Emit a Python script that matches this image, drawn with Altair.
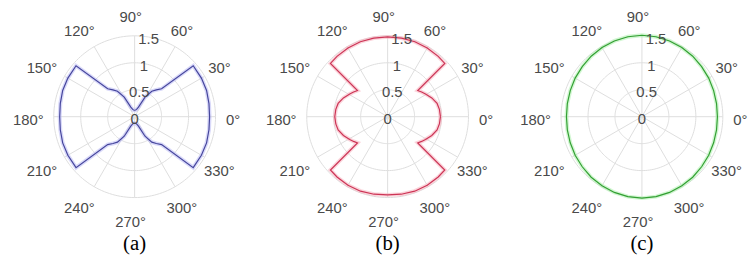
import altair as alt
import pandas as pd

# ---------------- data ----------------
angles_a = [0, 10, 20, 30, 41, 46, 51, 56, 62, 68, 75, 82, 90,
            98, 105, 112, 118, 124, 129, 134, 139, 150, 160, 170, 180,
            190, 200, 210, 221, 226, 231, 236, 242, 248, 255, 262, 270,
            278, 285, 292, 298, 304, 309, 314, 319, 330, 340, 350, 360]
radius_a = [1.39, 1.40, 1.42, 1.43, 1.44, 0.72, 0.64, 0.57, 0.41, 0.19, 0.14, 0.125, 0.12,
            0.125, 0.14, 0.19, 0.41, 0.57, 0.64, 0.72, 1.44, 1.43, 1.42, 1.40, 1.39,
            1.40, 1.42, 1.43, 1.44, 0.72, 0.64, 0.57, 0.41, 0.19, 0.14, 0.125, 0.12,
            0.125, 0.14, 0.19, 0.41, 0.57, 0.64, 0.72, 1.44, 1.43, 1.42, 1.40, 1.39]

angles_b = [0, 8, 15, 23, 31, 36, 41, 43, 50, 60, 70, 80, 90,
            100, 110, 120, 130, 137, 139, 144, 149, 157, 165, 172, 180,
            188, 195, 203, 211, 216, 221, 223, 230, 240, 250, 260, 270,
            280, 290, 300, 310, 317, 319, 324, 329, 337, 345, 352, 360]
radius_b = [0.98, 0.97, 0.95, 0.89, 0.82, 0.78, 0.74, 1.45, 1.46, 1.47, 1.48, 1.48, 1.48,
            1.48, 1.48, 1.47, 1.46, 1.45, 0.74, 0.78, 0.82, 0.89, 0.95, 0.97, 0.98,
            0.97, 0.95, 0.89, 0.82, 0.78, 0.74, 1.45, 1.46, 1.47, 1.47, 1.46, 1.45,
            1.46, 1.47, 1.47, 1.46, 1.45, 0.74, 0.78, 0.82, 0.89, 0.95, 0.97, 0.98]

angles_c = [0, 10, 20, 30, 40, 50, 60, 70, 80, 90, 100, 110, 120, 130, 140, 150, 160, 170, 180,
            190, 200, 210, 220, 230, 240, 250, 260, 270, 280, 290, 300, 310, 320, 330, 340, 350, 360]
radius_c = [1.40, 1.405, 1.415, 1.43, 1.445, 1.465, 1.48, 1.495, 1.505, 1.51,
            1.505, 1.495, 1.48, 1.465, 1.445, 1.43, 1.415, 1.405, 1.40,
            1.405, 1.415, 1.43, 1.445, 1.465, 1.48, 1.495, 1.505, 1.51,
            1.505, 1.495, 1.48, 1.465, 1.445, 1.43, 1.415, 1.405, 1.40]

ring_values = [0.5, 1.0, 1.5]
spoke_angles = [0, 30, 60, 90, 120, 150, 180, 210, 240, 270, 300, 330]
angle_labels = ["0°", "30°", "60°", "90°", "120°", "150°", "180°",
                "210°", "240°", "270°", "300°", "330°"]
radial_values = [0, 0.5, 1, 1.5]
radial_texts = ["0", "0.5", "1", "1.5"]
captions = ["(a)", "(b)", "(c)"]
panels = ["a", "b", "c"]

line_colors = ["#45459c", "#cc3556", "#33a033"]
halo_colors = ["#b4b4f4", "#f7aab8", "#a6efa6"]

# ---------------- layout constants ----------------
PX = 54.5                      # pixels per radial unit
W, H = 748, 252
panel_offsets = [0.0, 4.692, 9.409]   # horizontal centre of each panel, in radial units
x_min = -128.0 / PX
x_max = x_min + W / PX
y_max = 108.5 / PX
y_min = y_max - H / PX
LABEL_R = 1.9
RADIAL_LABEL_ANGLE = 80
CAPTION_Y = -2.367
CIRCLE_STEP = 2

# ---------------- tables ----------------
curve_rows = []
for k, (p, angs, rads) in enumerate(zip(panels, [angles_a, angles_b, angles_c],
                                        [radius_a, radius_b, radius_c])):
    for i, (t, r) in enumerate(zip(angs, rads)):
        curve_rows.append({"panel": p, "idx": i, "theta": t, "r": r, "off": panel_offsets[k]})
curve_df = pd.DataFrame(curve_rows)

ring_rows = []
for k, p in enumerate(panels):
    for rv in ring_values:
        for i, t in enumerate(range(0, 361, CIRCLE_STEP)):
            ring_rows.append({"key": f"{p}{rv}", "idx": i, "theta": t, "r": rv,
                              "off": panel_offsets[k]})
ring_df = pd.DataFrame(ring_rows)

spoke_rows = []
for k, p in enumerate(panels):
    for t in spoke_angles:
        spoke_rows.append({"theta": t, "r": max(ring_values), "off": panel_offsets[k]})
spoke_df = pd.DataFrame(spoke_rows)

alabel_rows = []
for k, p in enumerate(panels):
    for t, lab in zip(spoke_angles, angle_labels):
        alabel_rows.append({"theta": t, "r": LABEL_R, "label": lab, "off": panel_offsets[k]})
alabel_df = pd.DataFrame(alabel_rows)

rlabel_rows = []
for k, p in enumerate(panels):
    for rv, txt in zip(radial_values, radial_texts):
        rlabel_rows.append({"theta": RADIAL_LABEL_ANGLE, "r": rv, "label": txt,
                            "off": panel_offsets[k]})
rlabel_df = pd.DataFrame(rlabel_rows)

cap_df = pd.DataFrame({"label": captions, "off": panel_offsets})

xs = alt.Scale(domain=[x_min, x_max], nice=False, zero=False)
ys = alt.Scale(domain=[y_min, y_max], nice=False, zero=False)
X = alt.X("x:Q", scale=xs, axis=None)
Y = alt.Y("y:Q", scale=ys, axis=None)

def polar(ch):
    return ch.transform_calculate(
        x="datum.r * cos(datum.theta * PI / 180) + datum.off",
        y="datum.r * sin(datum.theta * PI / 180)",
    )

rings = polar(alt.Chart(ring_df).mark_line(color="#dedede", strokeWidth=1)).encode(
    x=X, y=Y, order="idx:Q", detail="key:N")

spokes = alt.Chart(spoke_df).transform_calculate(
    x="datum.off", y="0",
    x2="datum.r * cos(datum.theta * PI / 180) + datum.off",
    y2="datum.r * sin(datum.theta * PI / 180)",
).mark_rule(color="#dedede", strokeWidth=1).encode(x=X, y=Y, x2="x2:Q", y2="y2:Q")

color_halo = alt.Color("panel:N", scale=alt.Scale(domain=panels, range=halo_colors), legend=None)
color_line = alt.Color("panel:N", scale=alt.Scale(domain=panels, range=line_colors), legend=None)

halo = polar(alt.Chart(curve_df).mark_line(strokeWidth=4, opacity=0.5, strokeJoin="miter")).encode(
    x=X, y=Y, order="idx:Q", detail="panel:N", color=color_halo)
curve = polar(alt.Chart(curve_df).mark_line(strokeWidth=1.2, strokeJoin="miter")).encode(
    x=X, y=Y, order="idx:Q", detail="panel:N", color=color_line)

alabels = polar(alt.Chart(alabel_df).mark_text(
    font="Liberation Sans", fontSize=15, color="#4a4a4a", align="center",
    baseline="middle", dx=-4, dy=3)).encode(x=X, y=Y, text="label:N")

rlabels = polar(alt.Chart(rlabel_df).mark_text(
    font="Liberation Sans", fontSize=15, color="#4a4a4a", align="center",
    baseline="middle", dy=2)).encode(x=X, y=Y, text="label:N")

caps = alt.Chart(cap_df).transform_calculate(
    x="datum.off", y=str(CAPTION_Y)
).mark_text(font="Liberation Serif", fontSize=21, color="#000000",
            align="center", baseline="middle").encode(x=X, y=Y, text="label:N")

chart = alt.layer(rings, spokes, halo, curve, alabels, rlabels, caps).resolve_scale(
    color="independent"
).properties(
    width=W, height=H,
    autosize=alt.AutoSizeParams(type="none"),
    padding=0,
    background="#ffffff",
).configure_view(stroke=None)

chart.save("out.html", embed_options={"renderer": "svg", "actions": False})
